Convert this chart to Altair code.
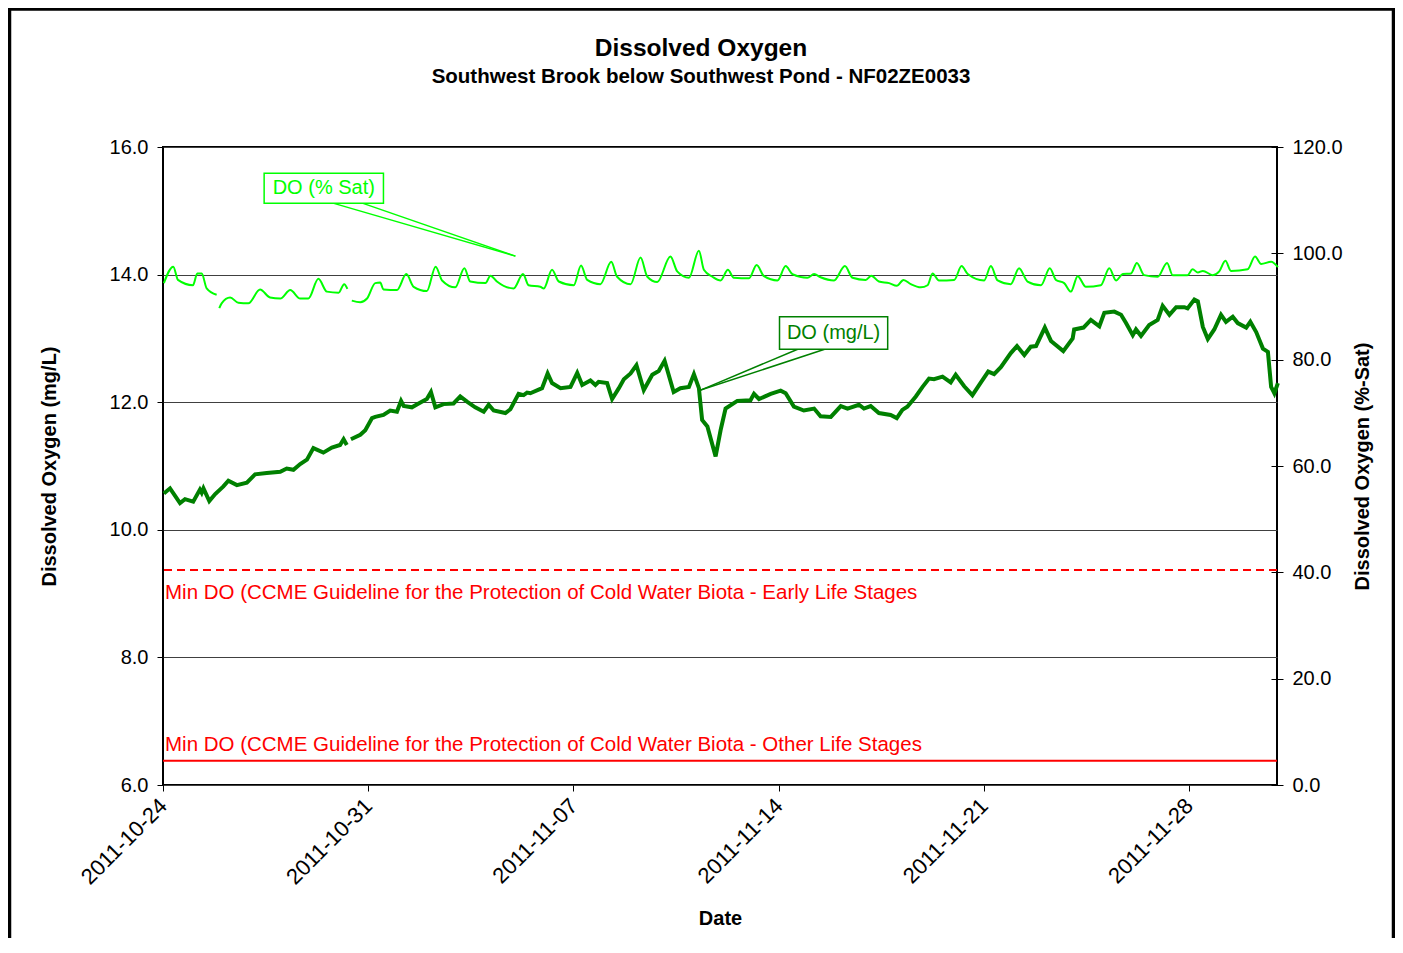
import altair as alt
import pandas as pd

START = "2011-10-24"
END = "2011-12-01"

TITLE = "Dissolved Oxygen"
SUBTITLE = "Southwest Brook below Southwest Pond - NF02ZE0033"

# DO (% Sat) readings: day offset from START and value (None = gap in record)
sat_day = [0.03, 0.35, 0.51, 1.02, 1.17, 1.32, 1.49, 1.83, None,
           1.92, 2.00, 2.29, 2.57, 2.91, 3.31, 3.65, 4.00, 4.34, 4.68, 4.96,
           5.30, 5.59, 5.99, 6.18, 6.29, None,
           6.44, 6.73, 6.96, 7.24, 7.41, 7.52, 7.98, 8.30, 8.55, 9.00, 9.30,
           9.52, 9.97, 10.28, 10.48, 11.00, 11.17, 11.39, 11.96, 12.28, 12.47,
           12.87, 12.99, 13.27, 13.50, 14.01, 14.26, 14.47, 14.92, 15.29, 15.49,
           15.95, 16.29, 16.52, 16.86, 17.31, 17.54, 17.94, 18.28, 18.45, 18.74,
           19.02, 19.27, 19.47, 19.99, 20.25, 20.50, 20.96, 21.24, 21.47, 21.98,
           22.21, 22.43, 22.89, 23.26, 23.52, 23.97, 24.16, 24.42, 24.77, 25.03,
           25.26, 25.51, 25.85, 26.08, 26.25, 26.47, 26.99, 27.24, 27.45, 28.01,
           28.24, 28.47, 28.92, 29.20, 29.49, 29.95, 30.25, 30.46, 30.74, 30.97,
           31.20, 31.48, 31.99, 32.28, 32.51, 32.74, 33.02, 33.22, 33.47, 33.93,
           34.25, 34.44, 34.95, 35.12, 35.30, 35.47, 35.81, 36.03, 36.24, 36.43,
           37.00, 37.25, 37.46, 37.80, 38.03]
sat_pct = [94.4, 97.5, 95.0, 94.0, 96.2, 96.2, 93.4, 92.2, None,
           89.7, 90.6, 91.7, 90.7, 90.6, 93.2, 91.7, 91.5, 93.1, 91.5, 91.5,
           95.2, 92.8, 92.6, 94.2, 93.3, None,
           91.1, 90.8, 91.5, 94.4, 94.5, 93.2, 93.1, 96.1, 93.7, 92.9, 97.5,
           94.9, 93.6, 97.2, 94.7, 94.4, 95.8, 94.7, 93.4, 96.1, 94.0,
           93.7, 93.4, 96.9, 94.7, 94.0, 97.7, 95.0, 94.2, 98.4, 95.6,
           94.2, 99.2, 95.6, 94.6, 99.4, 96.6, 95.4, 100.5, 96.9, 95.6,
           94.9, 96.9, 95.4, 95.3, 97.8, 95.7, 94.9, 97.6, 96.1, 95.4,
           96.1, 95.5, 94.9, 97.6, 95.4, 95.0, 95.8, 94.7, 94.4, 93.9,
           95.0, 94.2, 93.6, 94.0, 96.2, 94.9, 95.0, 97.6, 96.1, 94.9,
           97.6, 94.9, 94.2, 97.2, 94.7, 94.0, 97.2, 95.0, 94.4, 92.8,
           95.7, 93.7, 94.0, 97.2, 94.9, 96.1, 96.2, 98.2, 95.9, 95.6,
           98.2, 95.9, 95.9, 97.0, 96.4, 96.7, 95.9, 96.6, 98.6, 96.7,
           97.0, 99.4, 98.0, 98.4, 97.4]

# DO (mg/L) readings
mgl_day = [0.03, 0.24, 0.58, 0.75, 1.03, 1.26, 1.32, 1.38, 1.58, 1.78, 2.06,
           2.23, 2.52, 2.86, 3.14, 3.54, 4.00, 4.22, 4.45, 4.68, 4.91, 5.13,
           5.47, 5.76, 6.04, 6.16, 6.27, None,
           6.41, 6.73, 6.90, 7.13, 7.24, 7.52, 7.75, 7.98, 8.12, 8.21, 8.49,
           8.72, 9.00, 9.14, 9.29, 9.57, 9.91, 10.14, 10.37, 10.65, 10.94,
           11.11, 11.28, 11.68, 11.85, 12.13, 12.30, 12.42, 12.53, 12.93,
           13.12, 13.27, 13.56, 13.90, 14.13, 14.30, 14.58, 14.75, 14.86,
           15.15, 15.32, 15.55, 15.72, 15.95, 16.15, 16.40, 16.69, 16.91,
           17.11, 17.42, 17.65, 17.94, 18.11, 18.28, 18.39, 18.57, 18.85,
           19.02, 19.19, 19.59, 20.04, 20.16, 20.33, 20.73, 21.07, 21.24,
           21.52, 21.86, 22.21, 22.43, 22.78, 23.12, 23.35, 23.74, 23.91,
           24.14, 24.42, 24.82, 25.03, 25.22, 25.39, 25.68, 25.91, 26.13,
           26.30, 26.59, 26.87, 27.04, 27.33, 27.61, 27.90, 28.15, 28.35,
           28.58, 28.92, 29.13, 29.38, 29.60, 29.78, 30.08, 30.29, 30.71,
           31.03, 31.08, 31.40, 31.65, 31.94, 32.11, 32.45, 32.68, 32.85,
           33.08, 33.19, 33.36, 33.64, 33.93, 34.10, 34.33, 34.56, 34.84,
           34.95, 35.18, 35.30, 35.47, 35.64, 35.86, 36.09, 36.26, 36.49,
           36.66, 36.95, 37.09, 37.29, 37.52, 37.69, 37.80, 37.91, 38.03]
mgl_val = [10.57, 10.65, 10.42, 10.48, 10.44, 10.63, 10.58, 10.65, 10.45, 10.56, 10.68,
           10.77, 10.70, 10.74, 10.87, 10.89, 10.91, 10.96, 10.94, 11.03, 11.10, 11.28,
           11.21, 11.29, 11.33, 11.42, 11.33, None,
           11.42, 11.49, 11.56, 11.75, 11.77, 11.80, 11.87, 11.85, 12.02, 11.94, 11.92,
           11.98, 12.05, 12.16, 11.92, 11.97, 11.98, 12.09, 12.01, 11.92, 11.85,
           11.96, 11.87, 11.83, 11.89, 12.13, 12.11, 12.15, 12.14, 12.22,
           12.45, 12.30, 12.22, 12.24, 12.46, 12.27, 12.34, 12.27, 12.32,
           12.30, 12.05, 12.22, 12.36, 12.45, 12.58, 12.19, 12.43, 12.49,
           12.65, 12.16, 12.22, 12.24, 12.44, 12.22, 11.72, 11.62, 11.15,
           11.56, 11.90, 12.02, 12.03, 12.13, 12.05, 12.13, 12.18, 12.14,
           11.93, 11.87, 11.90, 11.78, 11.77, 11.94, 11.90, 11.96, 11.90,
           11.94, 11.83, 11.80, 11.75, 11.88, 11.93, 12.09, 12.24, 12.37,
           12.36, 12.40, 12.31, 12.43, 12.25, 12.11, 12.31, 12.48, 12.44,
           12.55, 12.77, 12.88, 12.74, 12.87, 12.88, 13.17, 12.96, 12.80,
           13.00, 13.14, 13.17, 13.29, 13.19, 13.40, 13.42, 13.37, 13.24,
           13.05, 13.14, 13.04, 13.21, 13.29, 13.51, 13.37, 13.49, 13.49,
           13.47, 13.61, 13.58, 13.18, 12.99, 13.14, 13.37, 13.26, 13.34,
           13.24, 13.17, 13.26, 13.10, 12.84, 12.79, 12.24, 12.14, 12.30]

tick_dates = [(2011, 10, 24), (2011, 10, 31), (2011, 11, 7),
              (2011, 11, 14), (2011, 11, 21), (2011, 11, 28)]
left_ticks = [6, 8, 10, 12, 14, 16]
right_ticks = [0, 20, 40, 60, 80, 100, 120]

guide_vals = [9.37, 6.38]
guide_labels = ["Min DO (CCME Guideline for the Protection of Cold Water Biota - Early Life Stages",
                "Min DO (CCME Guideline for the Protection of Cold Water Biota - Other Life Stages"]

# Callout annotations (positions in data units: day offset, mg/L)
sat_box = [3.45, 7.52, 15.12, 15.59]
sat_ptr_from = [5.80, 6.80]
sat_ptr_to = [12.02, 14.29]
mgl_box = [21.03, 24.72, 12.83, 13.34]
mgl_ptr_from = [21.65, 22.57]
mgl_ptr_to = [18.34, 12.19]

FONT = "Liberation Sans"
LIME = "#00FF00"
GREEN = "#008000"
RED = "#FF0000"

t0 = pd.Timestamp(START)


def ts(d):
    return t0 + pd.to_timedelta(d, unit="D")


def segments(days, vals, name):
    rows, seg = [], 0
    for d, v in zip(days, vals):
        if d is None or v is None:
            seg += 1
            continue
        rows.append({"t": ts(d), name: v, "seg": seg})
    return pd.DataFrame(rows)


sat_df = segments(sat_day, sat_pct, "s")
mgl_df = segments(mgl_day, mgl_val, "v")

x_scale = alt.Scale(domain=[alt.DateTime(year=2011, month=10, date=24),
                            alt.DateTime(year=2011, month=12, date=1)], nice=False)
x_axis = alt.Axis(values=[alt.DateTime(year=y, month=m, date=d) for (y, m, d) in tick_dates],
                  format="%Y-%m-%d", labelAngle=-45, labelAlign="right", labelBaseline="middle",
                  labelFontSize=22, labelFont=FONT, labelColor="black", labelPadding=11,
                  tickSize=6, tickColor="black", domain=False, grid=False,
                  title="Date", titleFont=FONT, titleFontSize=20, titleFontWeight="bold",
                  titleColor="black", titlePadding=20, labelOverlap=False)

X = alt.X("t:T", scale=x_scale, axis=x_axis)

yl_scale = alt.Scale(domain=[6, 16], nice=False, zero=False)
yl_axis = alt.Axis(values=left_ticks, format=".1f", labelFontSize=20, labelFont=FONT,
                   labelColor="black", labelPadding=9, tickSize=6, tickColor="black",
                   domain=False, grid=True, gridColor="#404040", gridWidth=1,
                   title="Dissolved Oxygen (mg/L)", titleFont=FONT, titleFontSize=20,
                   titleFontWeight="bold", titleColor="black", titlePadding=50)
YL = alt.Y("v:Q", scale=yl_scale, axis=yl_axis)

yr_scale = alt.Scale(domain=[0, 120], nice=False)
yr_axis = alt.Axis(orient="right", values=right_ticks, format=".1f", labelFontSize=20,
                   labelFont=FONT, labelColor="black", labelPadding=9, tickSize=12,
                   tickColor="black", offset=-6, domain=False, grid=False,
                   title="Dissolved Oxygen (%-Sat)", titleFont=FONT, titleFontSize=20,
                   titleFontWeight="bold", titleColor="black", titlePadding=10,
                   titleAngle=270, titleBaseline="top")

mgl_line = alt.Chart(mgl_df).mark_line(color=GREEN, strokeWidth=4).encode(
    x=X, y=YL, detail="seg:N")

sat_line = alt.Chart(sat_df).mark_line(color=LIME, strokeWidth=2, interpolate="monotone").encode(
    x=X, y=alt.Y("s:Q", scale=yr_scale, axis=yr_axis), detail="seg:N")

guide_df = pd.DataFrame({"v": guide_vals, "label": guide_labels,
                         "kind": ["early", "other"], "t": [t0, t0]})
dashed = alt.Chart(guide_df[guide_df.kind == "early"]).mark_rule(
    color=RED, strokeWidth=2, strokeDash=[8, 5]).encode(y=YL)
solid = alt.Chart(guide_df[guide_df.kind == "other"]).mark_rule(
    color=RED, strokeWidth=2).encode(y=YL)
lab_early = alt.Chart(guide_df[guide_df.kind == "early"]).mark_text(
    color=RED, font=FONT, fontSize=20.5, align="left", baseline="middle", dx=2, dy=23).encode(
    x=X, y=YL, text="label:N")
lab_other = alt.Chart(guide_df[guide_df.kind == "other"]).mark_text(
    color=RED, font=FONT, fontSize=20.5, align="left", baseline="middle", dx=2, dy=-16).encode(
    x=X, y=YL, text="label:N")


def callout(box, p_from, p_to, text, color):
    ptr = pd.DataFrame({"t": [ts(p_from[0]), ts(p_from[1])], "v": [box[2], box[2]],
                        "t2": [ts(p_to[0])] * 2, "v2": [p_to[1]] * 2})
    rules = alt.Chart(ptr).mark_rule(color=color, strokeWidth=1.5).encode(
        x=X, y=YL, x2="t2:T", y2="v2:Q")
    bdf = pd.DataFrame({"t": [ts(box[0])], "t2": [ts(box[1])], "v": [box[2]], "v2": [box[3]],
                        "tc": [ts((box[0] + box[1]) / 2)], "vc": [(box[2] + box[3]) / 2],
                        "label": [text]})
    rect = alt.Chart(bdf).mark_rect(fill="white", stroke=color, strokeWidth=1.5).encode(
        x=X, x2="t2:T", y=YL, y2="v2:Q")
    txt = alt.Chart(bdf).mark_text(color=color, font=FONT, fontSize=20, baseline="middle",
                                   align="center").encode(
        x=alt.X("tc:T", scale=x_scale, axis=x_axis),
        y=alt.Y("vc:Q", scale=yl_scale, axis=yl_axis), text="label:N")
    return [rules, rect, txt]


# outer chart-area border (decoration)
frame = alt.Chart(pd.DataFrame({"a": [0]})).mark_rect(
    fill="white", fillOpacity=0, stroke="black", strokeWidth=3.5).encode(
    x=alt.value(-153.5), x2=alt.value(1230.5), y=alt.value(-138), y2=alt.value(1000))

# chart title and subtitle drawn as text so the border does not push them away
title_df = pd.DataFrame({"txt": [TITLE]})
subtitle_df = pd.DataFrame({"txt": [SUBTITLE]})
title_mark = alt.Chart(title_df).mark_text(
    font=FONT, fontSize=24.5, fontWeight="bold", color="black", align="center",
    baseline="middle").encode(x=alt.value(538), y=alt.value(-98), text="txt:N")
subtitle_mark = alt.Chart(subtitle_df).mark_text(
    font=FONT, fontSize=20.5, fontWeight="bold", color="black", align="center",
    baseline="middle").encode(x=alt.value(538), y=alt.value(-70), text="txt:N")

left = alt.layer(frame, title_mark, subtitle_mark, dashed, solid, lab_early, lab_other, mgl_line,
                 *callout(mgl_box, mgl_ptr_from, mgl_ptr_to, "DO (mg/L)", GREEN),
                 *callout(sat_box, sat_ptr_from, sat_ptr_to, "DO (% Sat)", LIME))

chart = alt.layer(left, sat_line).resolve_scale(y="independent").properties(
    width=1114, height=638,
    padding={"left": 155, "top": 139, "right": 118, "bottom": 153},
    autosize=alt.AutoSizeParams(type="none"),
    background="white",
).configure_view(stroke="black", strokeWidth=2)

chart.save("out.html", embed_options={"renderer": "svg", "actions": False})
